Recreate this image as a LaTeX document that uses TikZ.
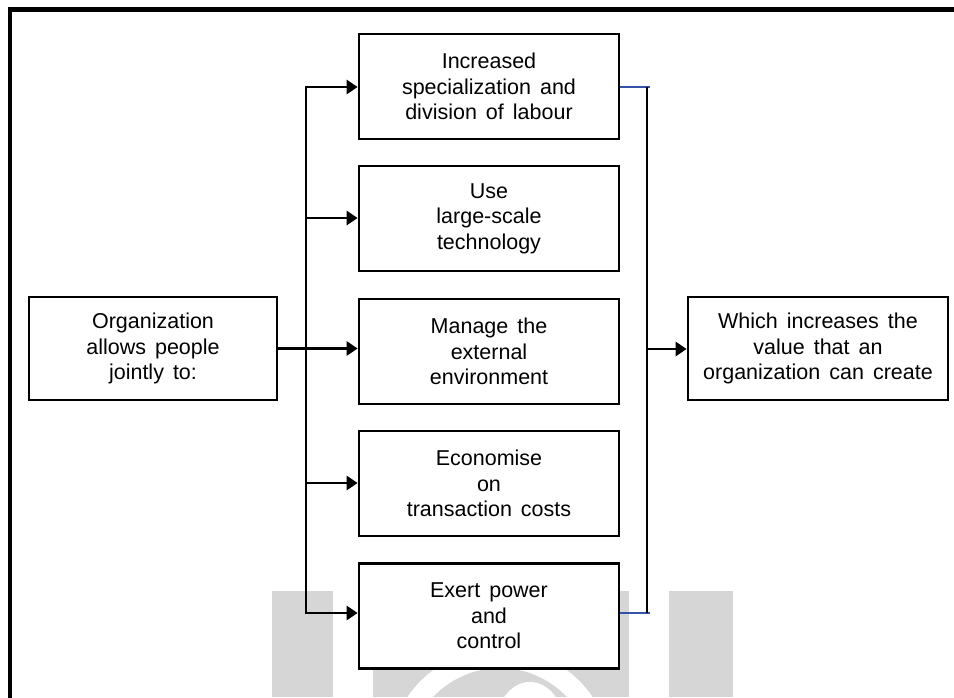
\documentclass[tikz,border=0pt]{standalone}
\usepackage{fontspec}
\setmainfont{Liberation Sans}
\usetikzlibrary{arrows.meta}
\definecolor{wmgrey}{RGB}{214,214,214}
\definecolor{linkblue}{RGB}{52,82,168}
\newcommand\boxfont{\fontsize{21.5}{25.5}\selectfont\spaceskip=0.42em plus 0.1em\relax}
\begin{document}
\begin{tikzpicture}[x=1pt,y=-1pt,
  box/.style={draw, line width=2.7pt, fill=white, align=center, inner sep=0pt,
    font=\boxfont, minimum width=260pt, minimum height=105pt},
  sidebox/.style={box, minimum height=103pt},
  wire/.style={line width=2.7pt},
  arrowwire/.style={wire, -{Triangle[length=11pt,width=14pt]}},
  bluewire/.style={line width=2.7pt, linkblue},
  frameline/.style={line width=4.5pt}]
\useasboundingbox (0,0) rectangle (954,697);

% faint logo in the background
\fill[wmgrey] (272,591) rectangle (333,697);
\fill[wmgrey] (373,591) rectangle (629,697);
\fill[wmgrey] (669,591) rectangle (733,697);
\fill[white, even odd rule] (500,760) circle (112) (500,760) circle (92);
\fill[white] (530,722) ellipse [x radius=33, y radius=40];

% outer frame
\draw[frameline] (10,700) -- (10,9.5) -- (960,9.5);

% boxes
\node[sidebox, minimum width=248pt] (org) at (153,348.5)
  {Organization\\allows people\\jointly to:};
\node[box] (b1) at (489,86.5) {Increased\\specialization and\\division of labour};
\node[box] (b2) at (489,218.5) {Use\\large-scale\\technology};
\node[box] (b3) at (489,351.5) {Manage the\\external\\environment};
\node[box] (b4) at (489,483.5) {Economise\\on\\transaction costs};
\node[box] (b5) at (489,616) {Exert power\\and\\control};
\node[sidebox] (value) at (818,348.5)
  {Which increases the\\value that an\\organization can create};

% left distribution bus
\coordinate (lbTop) at (306,87);
\coordinate (lbTwo) at (306,218);
\coordinate (lbFour) at (306,483);
\coordinate (lbBot) at (306,613);
\draw[arrowwire] (lbBot) -- (lbTop) -- (b1.west |- lbTop);
\draw[arrowwire] (lbTop) -- (lbBot) -- (b5.west |- lbBot);
\draw[arrowwire] (lbTwo) -- (b2.west |- lbTwo);
\draw[arrowwire] (lbFour) -- (b4.west |- lbFour);
\draw[arrowwire] (org.east) -- (org.east -| b3.west);

% right collecting bus
\coordinate (rbTop) at (647,87);
\coordinate (rbBot) at (647,613);
\coordinate (rbMid) at (647,349);
\draw[bluewire] (b1.east |- rbTop) -- ([xshift=3pt]rbTop);
\draw[bluewire] (b5.east |- rbBot) -- ([xshift=3pt]rbBot);
\draw[wire] (rbTop) -- (rbBot);
\draw[arrowwire] (rbMid) -- (value.west |- rbMid);
\end{tikzpicture}
\end{document}
